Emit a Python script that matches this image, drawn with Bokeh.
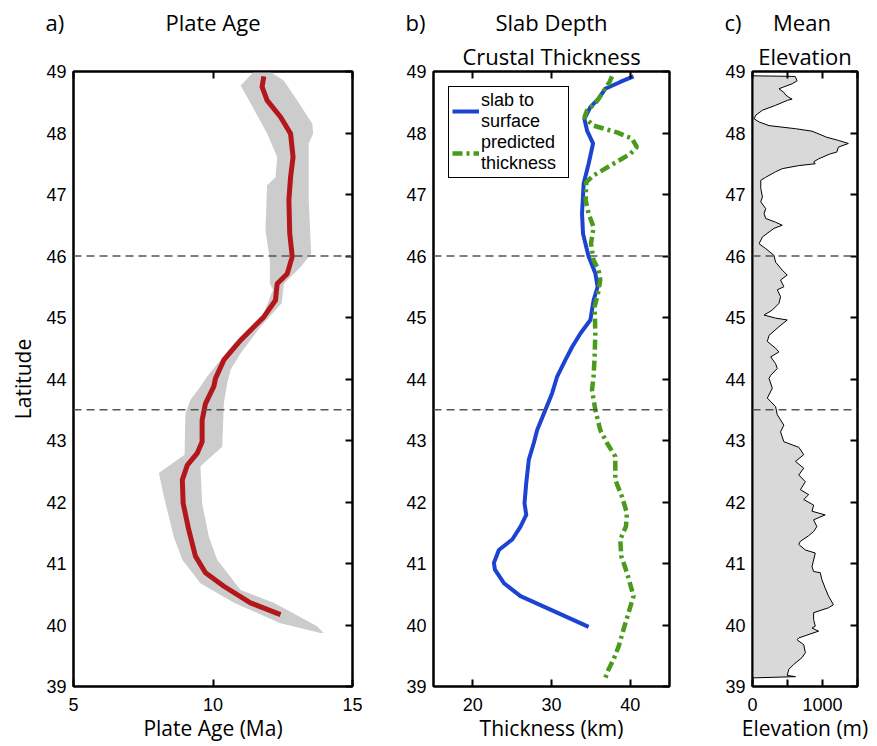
from bokeh.plotting import figure
from bokeh.layouts import row, column
from bokeh.models import Range1d, FixedTicker, LinearAxis, Span, Label, Legend, LegendItem
from bokeh.embed import file_html
from bokeh.resources import INLINE

# ---------------- data ----------------
lat_ticks = list(range(39, 50))
ref_lats = [46.0, 43.5]

# a) plate age
age_lat = [48.92, 48.75, 48.53, 48.26, 47.99, 47.61, 47.28, 46.91, 46.37, 45.99, 45.71, 45.55,
           45.28, 45.01, 44.63, 44.31, 44.01, 43.88, 43.60, 43.33, 42.98, 42.79, 42.60, 42.36,
           41.98, 41.55, 41.12, 40.85, 40.63, 40.36, 40.17]
age_mean = [11.82, 11.76, 11.94, 12.42, 12.78, 12.87, 12.78, 12.72, 12.75, 12.84, 12.66, 12.30,
            12.24, 11.82, 10.99, 10.39, 10.09, 10.03, 9.73, 9.61, 9.61, 9.43, 9.08, 8.90,
            8.93, 9.13, 9.37, 9.73, 10.39, 11.34, 12.42]
band_left_lat = [48.99, 48.77, 48.58, 47.99, 47.61, 47.28, 47.15, 46.42, 45.93, 45.55, 45.45,
                 45.07, 44.58, 44.04, 43.88, 43.66, 43.44, 42.77, 42.47, 42.09, 41.44, 41.06,
                 40.68, 40.36, 40.03, 39.87]
band_left_age = [11.45, 10.99, 11.23, 11.94, 12.30, 12.24, 11.94, 11.88, 12.04, 12.04, 12.15,
                 11.82, 10.75, 9.79, 9.55, 9.19, 9.01, 8.98, 8.06, 8.24, 8.59, 8.90,
                 9.55, 10.75, 12.42, 13.85]
band_right_lat = [48.99, 48.85, 48.53, 48.15, 47.99, 47.83, 46.91, 46.04, 45.82, 45.55, 45.23,
                  44.85, 44.42, 44.15, 43.93, 43.61, 42.90, 42.58, 41.98, 41.44, 41.06, 40.57,
                  40.36, 39.98, 39.87]
band_right_age = [12.06, 12.54, 13.02, 13.56, 13.59, 13.43, 13.43, 13.52, 13.14, 12.54, 12.46,
                  11.70, 10.99, 10.63, 10.51, 10.39, 10.33, 9.55, 9.61, 9.85, 10.15, 10.99,
                  12.18, 13.73, 13.97]

# b) slab depth and crustal thickness
slab_lat = [48.92, 48.83, 48.72, 48.56, 48.42, 48.23, 48.04, 47.83, 47.50, 47.18, 46.69, 46.36,
            45.99, 45.72, 45.50, 45.28, 44.96, 44.74, 44.52, 44.31, 44.04, 43.77, 43.50, 43.17,
            42.96, 42.69, 42.31, 41.98, 41.79, 41.60, 41.39, 41.22, 41.01, 40.90, 40.68, 40.47,
            40.25, 39.97]
slab_depth = [40.43, 38.74, 36.84, 35.99, 34.94, 34.18, 34.52, 35.28, 34.72, 34.09, 33.88, 34.01,
              34.72, 35.57, 35.86, 35.35, 34.94, 33.67, 32.62, 31.77, 30.72, 30.08, 29.23, 28.18,
              27.75, 27.12, 26.79, 26.57, 26.79, 26.06, 25.01, 23.31, 22.68, 22.81, 23.95, 26.06,
              29.87, 34.72]
crust_lat = [48.92, 48.83, 48.64, 48.48, 48.37, 48.25, 48.12, 48.01, 47.91, 47.77, 47.66, 47.47,
             47.31, 47.20, 46.91, 46.69, 46.47, 46.20, 45.93, 45.77, 45.61, 45.39, 45.17, 44.74,
             44.36, 44.04, 43.82, 43.50, 43.17, 42.96, 42.74, 42.36, 42.09, 41.82, 41.60, 41.39,
             41.12, 40.85, 40.47, 40.20, 39.93, 39.65, 39.44, 39.28, 39.14]
crust_thick = [37.69, 37.38, 36.42, 35.57, 34.52, 34.18, 35.35, 38.32, 40.22, 40.86, 40.01, 37.47,
               35.35, 34.43, 34.34, 34.72, 35.35, 35.02, 35.35, 35.99, 36.20, 35.91, 35.48, 35.57,
               35.48, 35.35, 35.15, 35.57, 36.20, 37.05, 38.11, 38.11, 38.95, 39.59, 39.46, 38.74,
               38.87, 39.59, 40.43, 39.79, 39.16, 38.53, 37.89, 37.26, 36.84]

# c) mean elevation
elev_lat = [48.93, 48.92, 48.85, 48.80, 48.72, 48.66, 48.62, 48.58, 48.55, 48.53, 48.45, 48.37,
            48.29, 48.23, 48.18, 48.12, 48.07, 48.03, 47.93, 47.88, 47.83, 47.77, 47.69, 47.66,
            47.58, 47.53, 47.50, 47.47, 47.42, 47.37, 47.28, 47.23, 47.10, 46.96, 46.88, 46.77,
            46.69, 46.61, 46.55, 46.50, 46.45, 46.31, 46.20, 46.12, 46.01, 45.90, 45.77, 45.69,
            45.61, 45.50, 45.45, 45.34, 45.23, 45.12, 45.04, 44.99, 44.96, 44.85, 44.71, 44.61,
            44.50, 44.44, 44.36, 44.25, 44.17, 44.06, 44.01, 43.85, 43.69, 43.55, 43.42, 43.25,
            43.14, 42.98, 42.93, 42.89, 42.77, 42.66, 42.55, 42.44, 42.33, 42.20, 42.12, 42.04,
            41.95, 41.85, 41.79, 41.71, 41.60, 41.52, 41.45, 41.36, 41.31, 41.22, 41.17, 40.95,
            40.87, 40.85, 40.74, 40.60, 40.47, 40.33, 40.28, 40.20, 40.09, 39.98, 39.95, 39.90,
            39.79, 39.76, 39.68, 39.55, 39.47, 39.36, 39.28, 39.18, 39.16, 39.14]
elev_m = [0, 610, 637, 566, 378, 448, 472, 519, 566, 496, 330, 142,
          47, 24, 94, 236, 614, 850, 1062, 1227, 1369, 1227, 1204, 1109,
          944, 873, 897, 661, 425, 330, 189, 118, 118, 142, 118, 189,
          165, 189, 330, 425, 307, 142, 94, 189, 307, 330, 425, 496,
          401, 448, 354, 401, 378, 283, 165, 330, 496, 378, 236, 212,
          330, 378, 260, 330, 354, 260, 236, 283, 212, 330, 354, 448,
          401, 448, 566, 661, 732, 614, 732, 661, 755, 685, 803, 732,
          873, 850, 1038, 873, 920, 873, 800, 684, 661, 755, 897, 850,
          873, 968, 991, 1038, 1086, 1156, 1086, 873, 873, 897, 850, 944,
          661, 637, 732, 755, 708, 590, 519, 496, 614, 0]

# panel titles: (tag, first line, second line)
panel_tags = ["a)", "b)", "c)"]
panel_line1 = ["Plate Age", "Slab Depth", "Mean"]
panel_line2 = ["", "Crustal Thickness", "Elevation"]

# ---------------- styling helpers ----------------
TITLE_FONT = "Open Sans"
TICK_FONT = "Liberation Sans"
FRAME_H = 615
HEAD_H = 36
TOP_BORDER = 35


def make_fig(xr, xticks, frame_w, left, right, xlabel, ylabel=None, overrides=None,
             title=""):
    p = figure(frame_width=frame_w, frame_height=FRAME_H,
               x_range=Range1d(*xr), y_range=Range1d(39, 49),
               output_backend="svg", toolbar_location=None,
               min_border_left=left, min_border_right=right,
               min_border_top=TOP_BORDER, min_border_bottom=60)
    if title:
        p.title.text = title
        p.title.align = "center"
        p.title.text_font = TITLE_FONT
        p.title.text_font_size = "22px"
        p.title.text_font_style = "normal"
        p.title.text_color = "black"
        p.title.standoff = 1
    p.grid.visible = False
    p.outline_line_color = "black"
    p.outline_line_width = 2
    p.background_fill_color = "white"
    p.border_fill_color = "white"
    p.xaxis.ticker = FixedTicker(ticks=xticks)
    p.yaxis.ticker = FixedTicker(ticks=lat_ticks)
    if overrides:
        p.xaxis.major_label_overrides = overrides
    for ax in (p.xaxis[0], p.yaxis[0]):
        ax.axis_line_width = 2
        ax.major_tick_line_width = 2
        ax.minor_tick_line_color = None
        ax.major_tick_out = 0
        ax.major_label_text_font = TICK_FONT
        ax.major_label_text_font_size = "18px"
        ax.major_label_text_color = "black"
        ax.axis_label_text_font = TITLE_FONT
        ax.axis_label_text_font_size = "21px"
        ax.axis_label_text_font_style = "normal"
        ax.axis_label_text_color = "black"
    p.xaxis.major_tick_in = 7
    p.yaxis.major_tick_in = 0
    p.xaxis.major_label_standoff = 11
    p.yaxis.major_label_standoff = 7
    p.xaxis.axis_label = xlabel
    p.xaxis.axis_label_standoff = 0
    if ylabel:
        p.yaxis.axis_label = ylabel
        p.yaxis.axis_label_standoff = 6
    ra = LinearAxis(ticker=FixedTicker(ticks=lat_ticks))
    ta = LinearAxis(ticker=FixedTicker(ticks=xticks))
    for ax in (ra, ta):
        ax.major_label_text_font_size = "1px"
        ax.major_label_text_color = None
        ax.major_label_standoff = 0
        ax.major_tick_in = 7
        ax.major_tick_out = 0
        ax.major_tick_line_width = 2
        ax.minor_tick_line_color = None
        ax.axis_line_width = 2
    p.add_layout(ra, "right")
    p.add_layout(ta, "above")
    for lat in ref_lats:
        p.add_layout(Span(location=lat, dimension="width", line_color="#555555",
                          line_width=1.5, line_dash="8 5"))
    return p


def make_header(total_w, left, frame_w, tag, text, dx=0):
    h = figure(width=total_w, height=HEAD_H, x_range=Range1d(0, total_w),
               y_range=Range1d(0, HEAD_H), x_axis_type=None, y_axis_type=None,
               output_backend="svg", toolbar_location=None, min_border=0)
    h.outline_line_color = None
    h.grid.visible = False
    yc = HEAD_H - 21
    h.add_layout(Label(x=left - 28, y=yc, text=tag, text_align="left",
                       text_baseline="middle", text_font=TITLE_FONT,
                       text_font_size="22px", text_color="black"))
    h.add_layout(Label(x=left + frame_w / 2 + dx, y=yc, text=text,
                       text_align="center", text_baseline="middle",
                       text_font=TITLE_FONT, text_font_size="22px", text_color="black"))
    return h


# ---------------- panel a ----------------
fwa, la, ra_ = 279, 73, 10
pa = make_fig((5, 15), [5, 10, 15], fwa, la, ra_, "Plate Age (Ma)", "Latitude",
              title=panel_line2[0])
band_x = band_left_age + band_right_age[::-1]
band_y = band_left_lat + band_right_lat[::-1]
pa.patch(x=band_x, y=band_y, fill_color="#cccccc", line_color=None)
pa.line(x=age_mean, y=age_lat, line_color="#b3161b", line_width=5, line_join="round")
ha = make_header(la + fwa + ra_, la, fwa, panel_tags[0], panel_line1[0])

# ---------------- panel b ----------------
fwb, lb, rb = 236, 71, 12
pb = make_fig((15, 45), [20, 30, 40], fwb, lb, rb, "Thickness (km)", title=panel_line2[1])
r_slab = pb.line(x=slab_depth, y=slab_lat, line_color="#1c43d1", line_width=4, line_join="round")
r_crust = pb.line(x=crust_thick, y=crust_lat, line_color="#4a9a1c", line_width=4.5,
                  line_dash="10 4 3 4")
leg = Legend(items=[LegendItem(label="slab to\nsurface", renderers=[r_slab]),
                    LegendItem(label="predicted\nthickness", renderers=[r_crust])],
             location="top_left")
leg.margin = 15
leg.padding = 3
leg.spacing = 0
leg.glyph_width = 27
leg.label_standoff = 2
leg.label_width = 84
leg.label_text_font = TICK_FONT
leg.label_text_font_size = "18px"
leg.label_text_line_height = 0.85
leg.label_text_color = "black"
leg.border_line_color = "black"
leg.border_line_width = 1.5
leg.border_line_alpha = 1
leg.background_fill_color = "white"
leg.background_fill_alpha = 1
pb.add_layout(leg)
hb = make_header(lb + fwb + rb, lb, fwb, panel_tags[1], panel_line1[1])

# ---------------- panel c ----------------
fwc, lc, rc = 105, 71, 20
pc = make_fig((0, 1500), [0, 500, 1000, 1500], fwc, lc, rc, "Elevation (m)",
              overrides={500: "", 1500: ""}, title=panel_line2[2])
pc.harea(y=elev_lat, x1=0, x2=elev_m, fill_color="#d9d9d9")
pc.line(x=elev_m, y=elev_lat, line_color="black", line_width=1)
hc = make_header(lc + fwc + rc, lc, fwc, panel_tags[2], panel_line1[2], dx=-3)

layout = column(row(ha, hb, hc), row(pa, pb, pc))
open("out.html", "w").write(file_html(layout, INLINE))
